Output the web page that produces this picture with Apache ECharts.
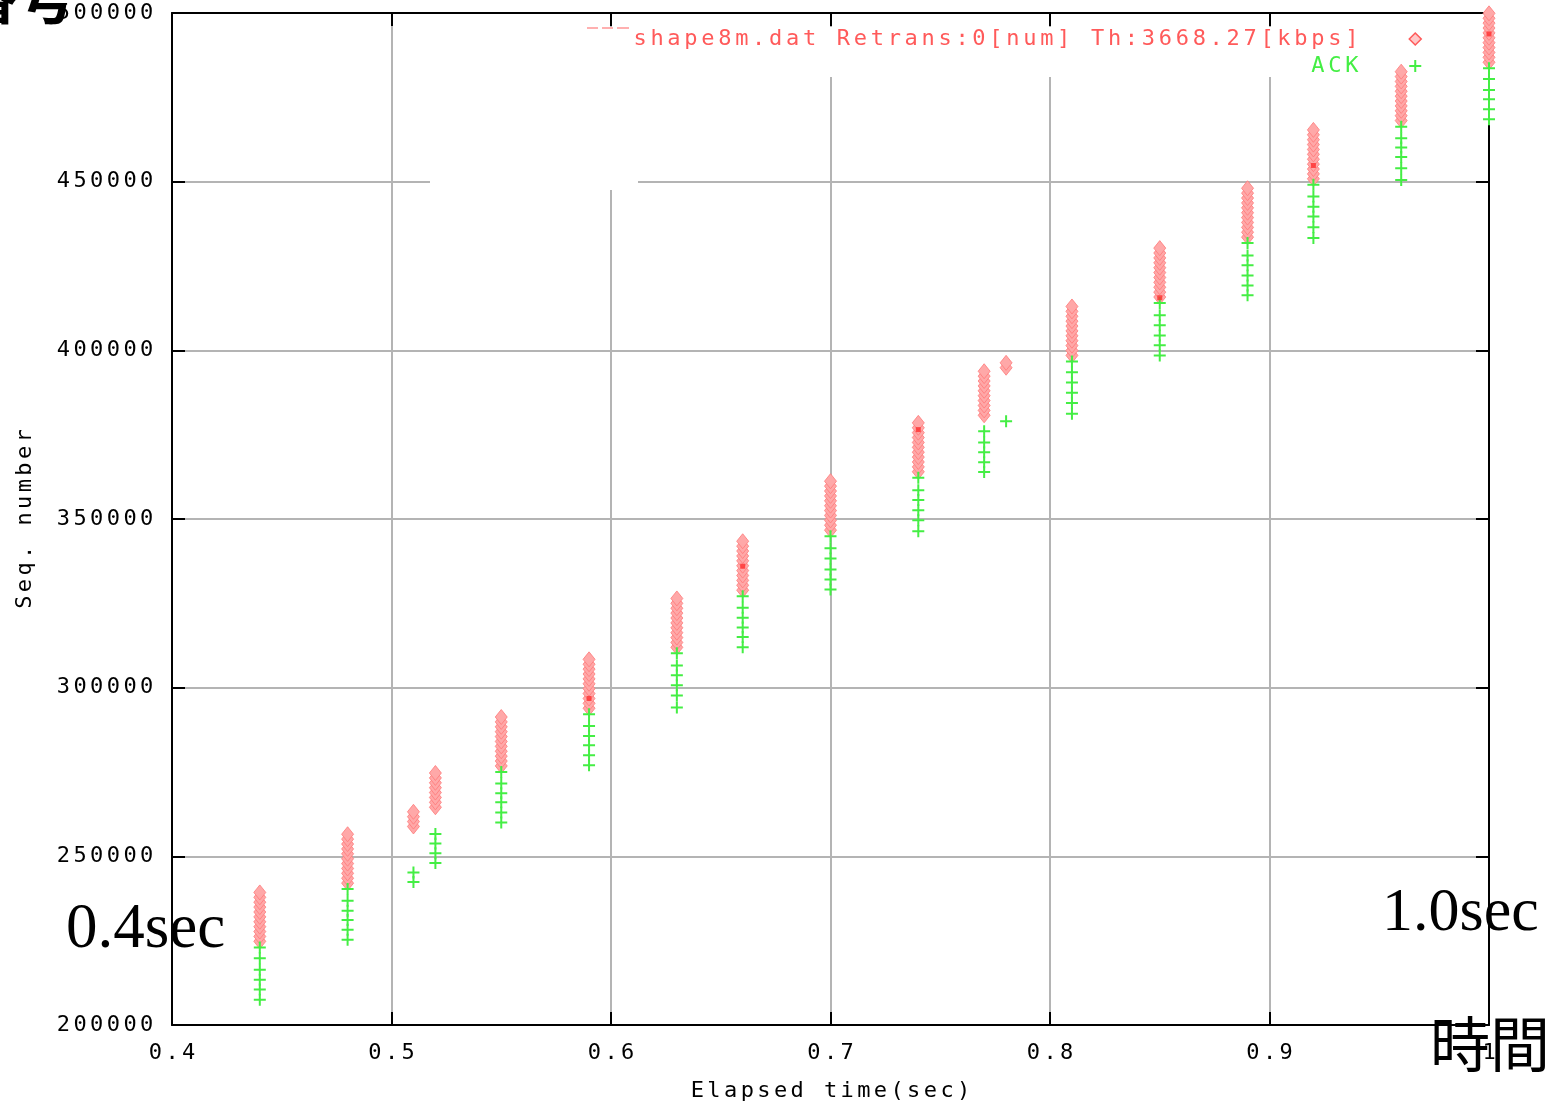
<!DOCTYPE html>
<html>
<head>
<meta charset="utf-8">
<script src="https://cdn.jsdelivr.net/npm/echarts@6/dist/echarts.min.js"></script>
<style>
html,body{margin:0;padding:0;background:#fff;}
#chart{width:1552px;height:1107px;}
</style>
</head>
<body>
<div id="chart"></div>
<script>
// ---- data ----
const xTicks = [0.4, 0.5, 0.6, 0.7, 0.8, 0.9, 1.0];
const yTicks = [200000, 250000, 300000, 350000, 400000, 450000, 500000];

const sendName = 'shape8m.dat Retrans:0[num] Th:3668.27[kbps]';
const ackName = 'ACK';
const xName = 'Elapsed time(sec)';
const yName = 'Seq. number';

const sendTimes = [0.44, 0.48, 0.51, 0.52, 0.55, 0.59, 0.63, 0.66, 0.70, 0.74, 0.77, 0.78, 0.81, 0.85, 0.89, 0.92, 0.96, 1.00];
const sendSeqs = [
  [224800, 226250, 227700, 229150, 230600, 232050, 233500, 234950, 236400, 237850, 239300],
  [242050, 243500, 244950, 246400, 247850, 249300, 250750, 252200, 253650, 255100, 256550],
  [258850, 260300, 261750, 263200],
  [264550, 266000, 267450, 268900, 270350, 271800, 273250, 274700],
  [276800, 278250, 279700, 281150, 282600, 284050, 285500, 286950, 288400, 289850, 291300],
  [293900, 295350, 296800, 298250, 299700, 301150, 302600, 304050, 305500, 306950, 308400],
  [311950, 313400, 314850, 316300, 317750, 319200, 320650, 322100, 323550, 325000, 326450],
  [328900, 330350, 331800, 333250, 334700, 336150, 337600, 339050, 340500, 341950, 343400],
  [346700, 348150, 349600, 351050, 352500, 353950, 355400, 356850, 358300, 359750, 361200],
  [364000, 365450, 366900, 368350, 369800, 371250, 372700, 374150, 375600, 377050, 378500],
  [380750, 382200, 383650, 385100, 386550, 388000, 389450, 390900, 392350, 393800],
  [394850, 396300],
  [398500, 399950, 401400, 402850, 404300, 405750, 407200, 408650, 410100, 411550, 413000],
  [415800, 417250, 418700, 420150, 421600, 423050, 424500, 425950, 427400, 428850, 430300],
  [433550, 435000, 436450, 437900, 439350, 440800, 442250, 443700, 445150, 446600, 448050],
  [450850, 452300, 453750, 455200, 456650, 458100, 459550, 461000, 462450, 463900, 465350],
  [468100, 469550, 471000, 472450, 473900, 475350, 476800, 478250, 479700, 481150, 482600],
  [485400, 486850, 488300, 489750, 491200, 492650, 494100, 495550, 497000, 498450, 499900]
];

const ackTimes = [0.44, 0.48, 0.51, 0.52, 0.55, 0.59, 0.63, 0.66, 0.70, 0.74, 0.77, 0.78, 0.81, 0.85, 0.89, 0.92, 0.96, 1.00];
const ackSeqs = [
  [223000, 219800, 216400, 213400, 210500, 207500],
  [240300, 236800, 233900, 231100, 228200, 225300],
  [245200, 242400],
  [256600, 253800, 250900, 248000],
  [275000, 271600, 268700, 266000, 263000, 260000],
  [292100, 288600, 285700, 282900, 280000, 277000],
  [310200, 306600, 303700, 300700, 297700, 294100],
  [327100, 323700, 320700, 317800, 315000, 312000],
  [344900, 341300, 338300, 335000, 332100, 329100],
  [362200, 358500, 355600, 352600, 349600, 346400],
  [376000, 372700, 369800, 366800, 363900],
  [379000],
  [396700, 393500, 390500, 387400, 384400, 381200],
  [414000, 410400, 407400, 404400, 401500, 398500],
  [431800, 428100, 425200, 422200, 419200, 416300],
  [449100, 445600, 442600, 439700, 436500, 433300],
  [466300, 462900, 460100, 457300, 454000, 450500],
  [483600, 480400, 477200, 474400, 471500, 468500]
];

// darker overlapping marks inside some send columns
const dupTimes = [0.59, 0.66, 0.74, 0.85, 0.92, 1.00];
const dupSeqs = [296800, 336000, 376500, 415600, 454800, 493800];

// ---- build ----
function pairs(times, seqs) {
  const out = [];
  times.forEach((t, i) => seqs[i].forEach(s => out.push([t, s])));
  return out;
}
const sendData = pairs(sendTimes, sendSeqs);
const ackData = pairs(ackTimes, ackSeqs);
const dupData = dupTimes.map((t, i) => [t, dupSeqs[i]]);

const MONO = '"DejaVu Sans Mono", "Liberation Mono", monospace';
function spaced(s, st) {
  return s.split('').map(ch => '{' + st + '|' + ch + '}').join('');
}
const richBase = { fontFamily: MONO, fontSize: 22, padding: [0, 1.7, 0, 1.7], lineHeight: 22 };
const legendRich = { fontFamily: MONO, fontSize: 22, padding: [0, 1.85, 0, 1.85], lineHeight: 22 };
const darkRich = { d: Object.assign({}, richBase, { color: '#000' }) };

const plusPath = 'path://M5,0h2v5h5v2h-5v5h-2v-5h-5v-2h5z';
const RED = '#ff5a5a';
const GREEN = '#44ee44';

const chart = echarts.init(document.getElementById('chart'), null, { renderer: 'canvas' });

const axisCommon = {
  type: 'value',
  axisLine: { show: true, lineStyle: { color: '#000', width: 2 } },
  axisTick: { show: true, inside: true, length: 13, lineStyle: { color: '#000', width: 2 } }
};

const option = {
  backgroundColor: '#fff',
  animation: false,
  grid: { left: 172, right: 63, top: 13, bottom: 81, containLabel: false },
  xAxis: [
    Object.assign({}, axisCommon, {
      position: 'bottom',
      min: xTicks[0], max: xTicks[xTicks.length - 1], interval: 0.1,
      splitLine: { show: true, lineStyle: { color: '#b4b4b4', width: 2 } },
      axisLabel: {
        margin: 17,
        formatter: v => spaced(String(Math.round(v * 10) / 10), 'd'),
        rich: darkRich
      },
      name: spaced(xName, 'd'),
      nameLocation: 'middle',
      nameGap: 55,
      nameTextStyle: { fontFamily: MONO, fontSize: 22, color: '#000', rich: darkRich }
    }),
    Object.assign({}, axisCommon, {
      position: 'top',
      min: xTicks[0], max: xTicks[xTicks.length - 1], interval: 0.1,
      splitLine: { show: false },
      axisLabel: { show: false }
    })
  ],
  yAxis: [
    Object.assign({}, axisCommon, {
      position: 'left',
      min: yTicks[0], max: yTicks[yTicks.length - 1], interval: 50000,
      splitLine: { show: true, lineStyle: { color: '#b4b4b4', width: 2 } },
      axisLabel: {
        margin: 17,
        formatter: v => spaced(String(v), 'd'),
        rich: darkRich
      },
      name: spaced(yName, 'd'),
      nameLocation: 'middle',
      nameGap: 136,
      nameTextStyle: { fontFamily: MONO, fontSize: 22, color: '#000', rich: darkRich }
    }),
    Object.assign({}, axisCommon, {
      position: 'right',
      min: yTicks[0], max: yTicks[yTicks.length - 1], interval: 50000,
      splitLine: { show: false },
      axisLabel: { show: false }
    })
  ],
  legend: {
    show: true,
    orient: 'vertical',
    align: 'right',
    right: 125,
    top: 23,
    itemWidth: 12,
    itemHeight: 12,
    itemGap: 5,
    selectedMode: false,
    data: [
      { name: sendName, icon: 'diamond', itemStyle: { color: '#ffc8c8', borderColor: RED, borderWidth: 1.5 } },
      { name: ackName, icon: plusPath, itemStyle: { color: GREEN } }
    ],
    formatter: name => spaced(name, name === ackName ? 'g' : 'r') + '{sp| }',
    textStyle: {
      fontFamily: MONO, fontSize: 22,
      rich: {
        r: Object.assign({}, legendRich, { color: RED }),
        g: Object.assign({}, legendRich, { color: GREEN }),
        sp: { width: 44, fontSize: 22, lineHeight: 22 }
      }
    }
  },
  series: [
    {
      name: sendName,
      type: 'scatter',
      xAxisIndex: 0, yAxisIndex: 0,
      symbol: 'diamond',
      symbolSize: [12, 15],
      clip: false,
      z: 3,
      itemStyle: { color: '#ffa8a8', borderColor: '#ff7a7a', borderWidth: 0.8, opacity: 1 },
      data: sendData
    },
    {
      name: ackName,
      type: 'scatter',
      xAxisIndex: 0, yAxisIndex: 0,
      symbol: plusPath,
      symbolSize: 12,
      clip: false,
      z: 4,
      itemStyle: { color: GREEN, opacity: 1 },
      data: ackData
    },
    {
      name: 'dup',
      type: 'scatter',
      xAxisIndex: 0, yAxisIndex: 0,
      symbol: 'rect',
      symbolSize: 5,
      clip: false,
      z: 5,
      itemStyle: { color: '#ff3030' },
      data: dupData
    }
  ],
  graphic: [
    // cleared areas over the grid (key box and a pasted-over patch)
    { type: 'rect', z: 1, silent: true, shape: { x: 430, y: 27, width: 208, height: 163 }, style: { fill: '#fff' } },
    { type: 'rect', z: 1, silent: true, shape: { x: 638, y: 27, width: 849, height: 50 }, style: { fill: '#fff' } },
    // remnants of covered key text
    { type: 'rect', z: 2, silent: true, shape: { x: 587, y: 27, width: 11, height: 2 }, style: { fill: '#ffb0b0' } },
    { type: 'rect', z: 2, silent: true, shape: { x: 602, y: 27, width: 11, height: 2 }, style: { fill: '#ffb0b0' } },
    { type: 'rect', z: 2, silent: true, shape: { x: 617, y: 27, width: 12, height: 2 }, style: { fill: '#ffb0b0' } },
    // annotations
    { type: 'text', z: 20, silent: true, style: { text: '0.4sec', x: 66, y: 930, font: '63px "Liberation Serif", "DejaVu Serif", serif', fill: '#000', textAlign: 'left', textVerticalAlign: 'middle' } },
    { type: 'text', z: 20, silent: true, style: { text: '1.0sec', x: 1382, y: 914, font: '62px "Liberation Serif", "DejaVu Serif", serif', fill: '#000', textAlign: 'left', textVerticalAlign: 'middle' } },
    { type: 'text', z: 20, silent: true, style: { text: '時間', x: 1430, y: 1044, font: '60px "Noto Sans CJK JP"', fill: '#000', textAlign: 'left', textVerticalAlign: 'middle' } },
    { type: 'text', z: 20, silent: true, style: { text: '番号', x: 76, y: -3, font: 'bold 58px "Noto Sans CJK JP"', fill: '#000', textAlign: 'right', textVerticalAlign: 'middle' } }
  ]
};
chart.setOption(option);
</script>
</body>
</html>
